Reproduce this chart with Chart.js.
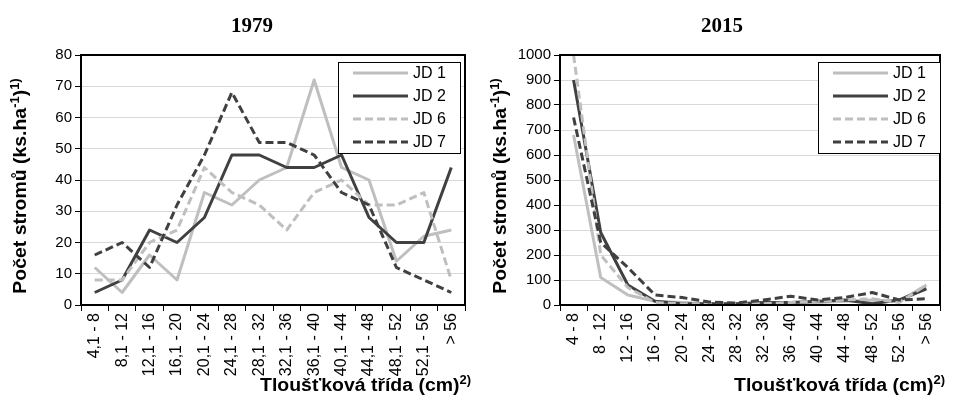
<!DOCTYPE html>
<html lang="cs">
<head>
<meta charset="utf-8">
<title>Počet stromů podle tloušťkových tříd</title>
<script src="https://cdn.jsdelivr.net/npm/chart.js@4.4.1/dist/chart.umd.min.js"></script>
<style>
  html, body { margin: 0; padding: 0; background: #fff; }
  #wrap { position: relative; width: 953px; height: 405px; overflow: hidden; }
  canvas { position: absolute; top: 0; }
  #c1979 { left: 0; }
  #c2015 { left: 477px; }
</style>
</head>
<body>
<div id="wrap">
  <canvas id="c1979" width="477" height="405"></canvas>
  <canvas id="c2015" width="476" height="405"></canvas>
</div>
<script>
// Diameter classes (cm)
const classes1979 = ['4,1 - 8', '8,1 - 12', '12,1 - 16', '16,1 - 20', '20,1 - 24', '24,1 - 28', '28,1 - 32',
                     '32,1 - 36', '36,1 - 40', '40,1 - 44', '44,1 - 48', '48,1 - 52', '52,1 - 56', '> 56'];
const classes2015 = ['4 - 8', '8 - 12', '12 - 16', '16 - 20', '20 - 24', '24 - 28', '28 - 32',
                     '32 - 36', '36 - 40', '40 - 44', '44 - 48', '48 - 52', '52 - 56', '> 56'];

// Number of trees per hectare, 1979
const jd1_1979 = [12, 4, 16, 8, 36, 32, 40, 44, 72, 44, 40, 14, 22, 24];
const jd2_1979 = [4, 8, 24, 20, 28, 48, 48, 44, 44, 48, 28, 20, 20, 44];
const jd6_1979 = [8, 8, 20, 24, 44, 36, 32, 24, 36, 40, 32, 32, 36, 8];
const jd7_1979 = [16, 20, 12, 32, 48, 68, 52, 52, 48, 36, 32, 12, 8, 4];

// Number of trees per hectare, 2015
const jd1_2015 = [680, 110, 40, 15, 10, 5, 5, 5, 10, 10, 15, 20, 15, 80];
const jd2_2015 = [900, 290, 80, 15, 5, 5, 5, 10, 10, 15, 20, 5, 20, 65];
const jd6_2015 = [1000, 200, 70, 10, 5, 5, 5, 5, 10, 15, 20, 25, 10, 80];
const jd7_2015 = [750, 250, 150, 40, 30, 12, 8, 20, 35, 20, 30, 50, 20, 25];

const seriesNames = ['JD 1', 'JD 2', 'JD 6', 'JD 7'];

// Value axis ranges: [min, max, step]
const yAxis1979 = [0, 80, 10];
const yAxis2015 = [0, 1000, 100];

const LIGHT = '#bfbfbf';
const DARK = '#404040';
const DASH = [8, 4];
const seriesStyles = [
  { color: LIGHT, dash: [] },
  { color: DARK, dash: [] },
  { color: LIGHT, dash: DASH },
  { color: DARK, dash: DASH }
];

const SANS = '"Liberation Sans", Arial, sans-serif';
const SERIF = '"Liberation Serif", "Times New Roman", serif';

// Draw a string made of normal and superscript parts, slightly widened
function drawRich(ctx, parts, x, y, align, size, stretch) {
  const base = 'bold ' + size + 'px ' + SANS;
  const sup = 'bold ' + Math.round(size * 0.64) + 'px ' + SANS;
  let total = 0;
  parts.forEach(p => { ctx.font = p.sup ? sup : base; total += ctx.measureText(p.t).width; });
  const w = total * stretch;
  const start = align === 'right' ? x - w : (align === 'center' ? x - w / 2 : x);
  ctx.save();
  ctx.translate(start, y);
  ctx.scale(stretch, 1);
  ctx.textAlign = 'left';
  ctx.textBaseline = 'alphabetic';
  ctx.fillStyle = '#000';
  let cx = 0;
  parts.forEach(p => {
    ctx.font = p.sup ? sup : base;
    ctx.fillText(p.t, cx, p.sup ? -size * 0.38 : 0);
    cx += ctx.measureText(p.t).width;
  });
  ctx.restore();
}

const yTitleParts = [{ t: 'Počet stromů (ks.ha' }, { t: '-1', sup: true }, { t: ')' }, { t: '1)', sup: true }];
const xTitleParts = [{ t: 'Tloušťková třída (cm)' }, { t: '2)', sup: true }];

const decorPlugin = {
  id: 'decor',
  afterDraw(chart, args, opts) {
    const ctx = chart.ctx;
    const a = chart.chartArea;
    ctx.save();

    // plot frame
    ctx.strokeStyle = '#000';
    ctx.lineWidth = 2;
    ctx.setLineDash([]);
    ctx.strokeRect(a.left, a.top, a.right - a.left, a.bottom - a.top);

    // chart title
    ctx.font = 'bold 21px ' + SERIF;
    ctx.fillStyle = '#000';
    ctx.textAlign = 'center';
    ctx.textBaseline = 'alphabetic';
    ctx.fillText(opts.title, opts.titleX, 32);

    // value axis title (rotated)
    ctx.save();
    ctx.translate(opts.yTitleX, (a.top + a.bottom) / 2 + 6);
    ctx.rotate(-Math.PI / 2);
    drawRich(ctx, yTitleParts, 0, 7, 'center', 18, 1.08);
    ctx.restore();

    // category axis title
    drawRich(ctx, xTitleParts, opts.xTitleRight, 391, 'right', 18, 1.08);

    // legend
    const bx = opts.legendRight - 122, by = 62, bw = 122, bh = 91;
    ctx.fillStyle = '#fff';
    ctx.fillRect(bx, by, bw, bh);
    ctx.strokeStyle = '#000';
    ctx.lineWidth = 1;
    ctx.strokeRect(bx + 0.5, by + 0.5, bw, bh);
    chart.data.datasets.forEach((ds, i) => {
      const ry = by + 11 + i * 23;
      ctx.strokeStyle = ds.borderColor;
      ctx.lineWidth = 3;
      ctx.setLineDash(ds.borderDash || []);
      ctx.beginPath();
      ctx.moveTo(bx + 15, ry);
      ctx.lineTo(bx + 70, ry);
      ctx.stroke();
      ctx.setLineDash([]);
      ctx.font = '16px ' + SANS;
      ctx.fillStyle = '#000';
      ctx.textAlign = 'left';
      ctx.textBaseline = 'middle';
      ctx.fillText(ds.label, bx + 75, ry + 1);
    });
    ctx.restore();
  }
};

function buildChart(id, labels, seriesValues, yRange, decor, axisWidth, rightPad) {
  const datasets = seriesValues.map((vals, i) => ({
    label: seriesNames[i],
    data: vals,
    borderColor: seriesStyles[i].color,
    backgroundColor: seriesStyles[i].color,
    borderDash: seriesStyles[i].dash,
    borderWidth: 3,
    borderCapStyle: 'butt',
    borderJoinStyle: 'round',
    pointRadius: 0,
    pointHoverRadius: 0,
    tension: 0,
    fill: false,
    order: seriesValues.length - 1 - i
  }));
  return new Chart(document.getElementById(id), {
    type: 'line',
    data: { labels: labels, datasets: datasets },
    options: {
      responsive: false,
      animation: false,
      devicePixelRatio: 1,
      layout: { padding: { top: 55, right: rightPad, left: 0, bottom: 0 } },
      plugins: {
        legend: { display: false },
        tooltip: { enabled: false },
        decor: decor
      },
      scales: {
        x: {
          type: 'category',
          offset: true,
          afterFit(scale) { scale.height = 100; },
          grid: {
            offset: true,
            drawOnChartArea: false,
            drawTicks: true,
            tickLength: 6,
            tickColor: '#000',
            tickWidth: 1,
            color: '#000'
          },
          border: { display: true, color: '#000', width: 2 },
          ticks: {
            autoSkip: false,
            maxRotation: 90,
            minRotation: 90,
            padding: 2,
            color: '#000',
            font: { family: SANS, size: 16 }
          }
        },
        y: {
          min: yRange[0],
          max: yRange[1],
          afterFit(scale) { scale.width = axisWidth; },
          grid: {
            color: '#d9d9d9',
            lineWidth: 1,
            drawTicks: true,
            tickLength: 6,
            tickColor: '#000',
            tickWidth: 1
          },
          border: { display: true, color: '#000', width: 2 },
          ticks: {
            stepSize: yRange[2],
            padding: 3,
            color: '#000',
            font: { family: SANS, size: 15 },
            callback: (v) => String(v)
          }
        }
      }
    },
    plugins: [decorPlugin]
  });
}

buildChart('c1979', classes1979, [jd1_1979, jd2_1979, jd6_1979, jd7_1979], yAxis1979,
  { title: '1979', titleX: 252, yTitleX: 19, xTitleRight: 471, legendRight: 460 }, 81, 12);

buildChart('c2015', classes2015, [jd1_2015, jd2_2015, jd6_2015, jd7_2015], yAxis2015,
  { title: '2015', titleX: 245, yTitleX: 22, xTitleRight: 468, legendRight: 463 }, 83, 13);
</script>
</body>
</html>
